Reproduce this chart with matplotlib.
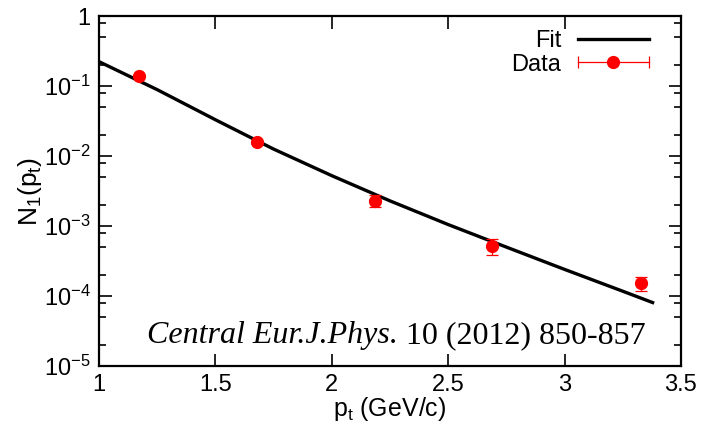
import matplotlib
matplotlib.use("Agg")
import matplotlib.pyplot as plt
import numpy as np
from matplotlib.lines import Line2D
from matplotlib.legend_handler import HandlerLine2D, HandlerTuple
from matplotlib.ticker import LogLocator, FuncFormatter, NullFormatter

plt.rcParams["font.family"] = ["Liberation Sans", "DejaVu Sans"]
plt.rcParams["mathtext.fontset"] = "custom"
plt.rcParams["mathtext.rm"] = "Liberation Sans"
plt.rcParams["mathtext.it"] = "Liberation Sans"

# fit curve
fit_pt = [1.0, 1.25, 1.5, 1.75, 2.0, 2.25, 2.5, 2.75, 3.0, 3.25, 3.385]
fit_n1 = [0.224, 0.0891, 0.0331, 0.0126, 5.25e-3, 2.29e-3, 1.05e-3,
          5.0e-4, 2.4e-4, 1.17e-4, 7.9e-5]

# measured points
data_pt = [1.17, 1.68, 2.185, 2.69, 3.33]
data_n1 = [0.139, 0.0158, 2.28e-3, 5.2e-4, 1.52e-4]
err_lo = [0.006, 0.0007, 0.41e-3, 1.31e-4, 0.33e-4]
err_hi = [0.006, 0.0007, 0.49e-3, 1.39e-4, 0.33e-4]

RED = "#ff0000"

fig = plt.figure(figsize=(7.02, 4.26), dpi=100)
ax = fig.add_axes([0.141, 0.141, 0.829, 0.821])

ax.plot(fit_pt, fit_n1, color="black", lw=2.4, solid_capstyle="butt")
ax.errorbar(data_pt, data_n1, yerr=[err_lo, err_hi], fmt="o", color=RED,
            ms=8.5, elinewidth=0.9, capsize=4.3, capthick=0.9, zorder=3)

ax.set_yscale("log")
ax.set_xlim(1, 3.5)
ax.set_ylim(1e-5, 1)
ax.set_xticks([1, 1.5, 2, 2.5, 3, 3.5])
ax.set_xticklabels(["1", "1.5", "2", "2.5", "3", "3.5"])
ax.yaxis.set_major_locator(LogLocator(base=10, numticks=10))
ax.yaxis.set_minor_locator(LogLocator(base=10, subs=[2, 5, 8], numticks=10))
ax.yaxis.set_minor_formatter(NullFormatter())


def _fmt(v, pos):
    e = int(round(np.log10(v)))
    return "1" if e == 0 else r"$\mathregular{10^{%d}}$" % e


ax.yaxis.set_major_formatter(FuncFormatter(_fmt))

ax.tick_params(which="both", direction="in", top=True, right=True,
               labelsize=17, width=1.2)
ax.tick_params(which="major", length=9, pad=6)
ax.tick_params(which="minor", length=5)
for s in ax.spines.values():
    s.set_linewidth(1.6)

ax.set_xlabel(r"$\mathregular{p_t}$ (GeV/c)", fontsize=18, labelpad=-1)
ax.set_ylabel(r"$\mathregular{N_1(p_t)}$", fontsize=19, labelpad=0)

# citation: italic journal name followed by upright volume/pages
cite = ax.text(0.082, 0.087, "Central Eur.J.Phys.", transform=ax.transAxes,
               ha="left", va="center", fontsize=23, style="italic",
               family=["Liberation Serif", "DejaVu Serif"])
ax.annotate(" 10 (2012) 850-857", xy=(1, 0.5), xycoords=cite,
            ha="left", va="center", fontsize=23,
            family=["Liberation Serif", "DejaVu Serif"])

# legend: gnuplot-style key with a horizontal error bar
fit_h = Line2D([], [], color="black", lw=2.4)
bar_h = Line2D([], [], color=RED, lw=0.9, marker="|", ms=9, mew=0.9)
dot_h = Line2D([], [], color=RED, lw=0, marker="o", ms=8.5)
ax.legend([fit_h, (bar_h, dot_h)], ["Fit", "Data"],
          handler_map={bar_h: HandlerLine2D(numpoints=2, marker_pad=0),
                       dot_h: HandlerLine2D(numpoints=1),
                       tuple: HandlerTuple()},
          loc="upper right", bbox_to_anchor=(0.969, 1.0), frameon=False,
          markerfirst=False, fontsize=17, handlelength=3.0,
          handletextpad=0.7, labelspacing=0.05, borderaxespad=0.2)

fig.savefig("out.png", dpi=100)
